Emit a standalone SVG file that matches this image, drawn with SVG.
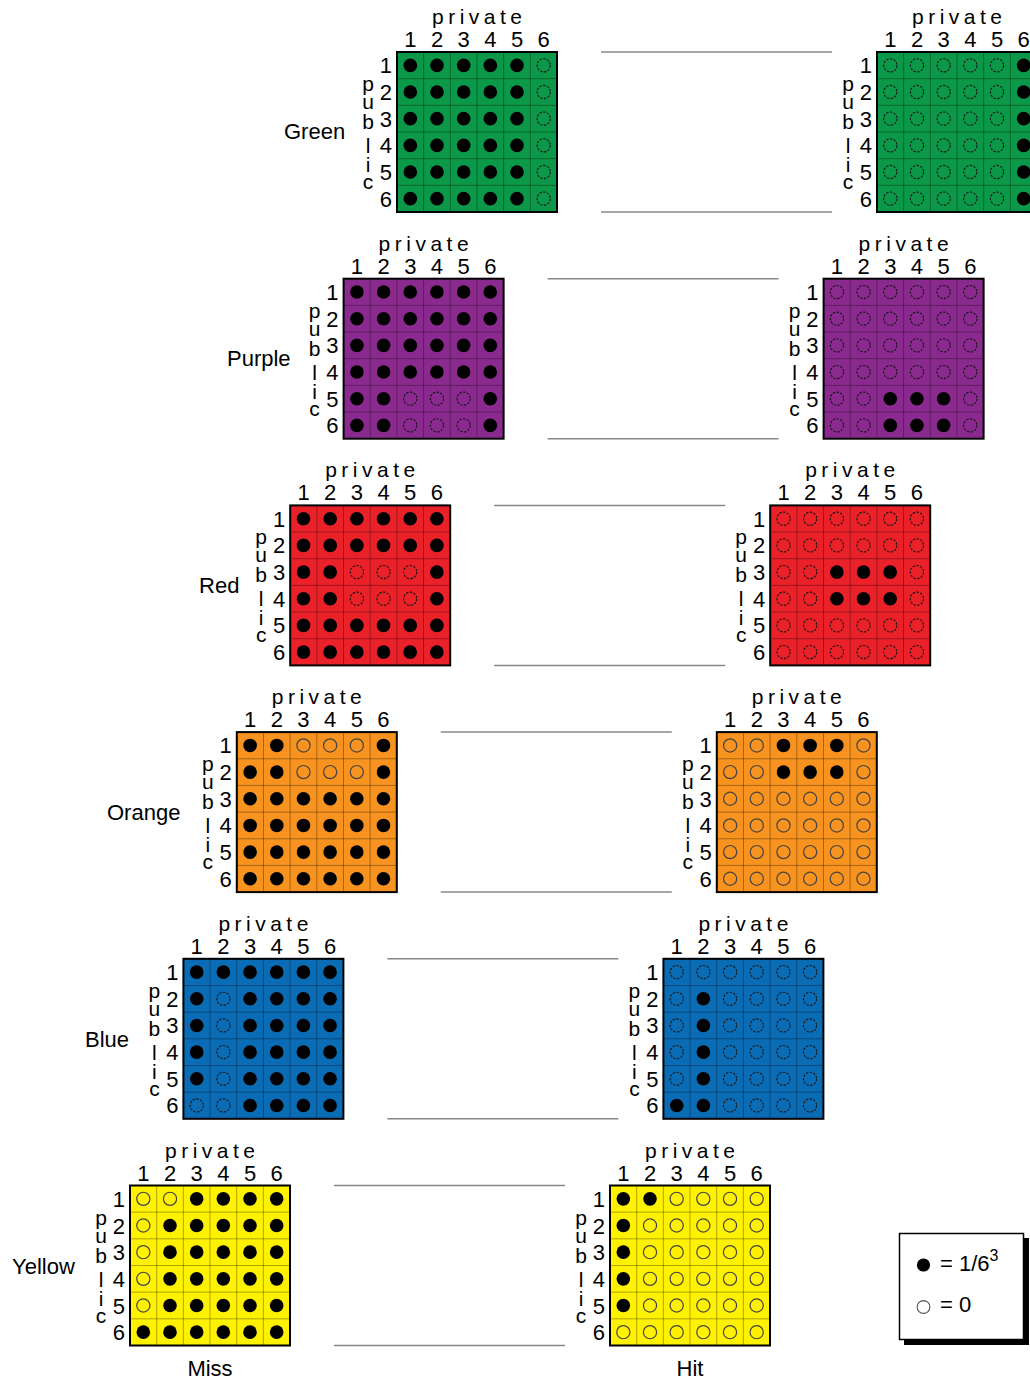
<svg xmlns="http://www.w3.org/2000/svg" xmlns:xlink="http://www.w3.org/1999/xlink" width="1030" height="1381" viewBox="0 0 1030 1381">
<style>
.t{font-family:"Liberation Sans",Arial,Helvetica,sans-serif;font-size:22px;fill:#000}
.pv{font-size:21px}
.lab{font-size:22px}
.pub{font-size:21px}
.conn{stroke:#888;stroke-width:1.5;fill:none}
.gl{stroke:#000;stroke-opacity:0.32;stroke-width:1;fill:none}
.bd{fill:none;stroke:#000;stroke-width:2}
.dk{stroke:#151515;stroke-width:1.1;stroke-dasharray:2.4 1.4}
.lt{stroke:#444;stroke-width:1.2}
</style>
<defs>
<circle id="F" r="6.8" fill="#000" stroke="none"/>
<circle id="H" r="6.6" fill="none"/>
<path id="gl" class="gl" d="M26.67 0V160M53.33 0V160M80 0V160M106.67 0V160M133.33 0V160M0 26.67H160M0 53.33H160M0 80H160M0 106.67H160M0 133.33H160"/>
<g id="pFFFFFH"><use href="#F" x="13.33"/><use href="#F" x="40"/><use href="#F" x="66.67"/><use href="#F" x="93.33"/><use href="#F" x="120"/><use href="#H" x="146.67"/></g>
<g id="pHHHHHF"><use href="#H" x="13.33"/><use href="#H" x="40"/><use href="#H" x="66.67"/><use href="#H" x="93.33"/><use href="#H" x="120"/><use href="#F" x="146.67"/></g>
<g id="pFFFFFF"><use href="#F" x="13.33"/><use href="#F" x="40"/><use href="#F" x="66.67"/><use href="#F" x="93.33"/><use href="#F" x="120"/><use href="#F" x="146.67"/></g>
<g id="pFFHHHF"><use href="#F" x="13.33"/><use href="#F" x="40"/><use href="#H" x="66.67"/><use href="#H" x="93.33"/><use href="#H" x="120"/><use href="#F" x="146.67"/></g>
<g id="pHHHHHH"><use href="#H" x="13.33"/><use href="#H" x="40"/><use href="#H" x="66.67"/><use href="#H" x="93.33"/><use href="#H" x="120"/><use href="#H" x="146.67"/></g>
<g id="pHHFFFH"><use href="#H" x="13.33"/><use href="#H" x="40"/><use href="#F" x="66.67"/><use href="#F" x="93.33"/><use href="#F" x="120"/><use href="#H" x="146.67"/></g>
<g id="pFHFFFF"><use href="#F" x="13.33"/><use href="#H" x="40"/><use href="#F" x="66.67"/><use href="#F" x="93.33"/><use href="#F" x="120"/><use href="#F" x="146.67"/></g>
<g id="pHHFFFF"><use href="#H" x="13.33"/><use href="#H" x="40"/><use href="#F" x="66.67"/><use href="#F" x="93.33"/><use href="#F" x="120"/><use href="#F" x="146.67"/></g>
<g id="pHFHHHH"><use href="#H" x="13.33"/><use href="#F" x="40"/><use href="#H" x="66.67"/><use href="#H" x="93.33"/><use href="#H" x="120"/><use href="#H" x="146.67"/></g>
<g id="pFFHHHH"><use href="#F" x="13.33"/><use href="#F" x="40"/><use href="#H" x="66.67"/><use href="#H" x="93.33"/><use href="#H" x="120"/><use href="#H" x="146.67"/></g>
<g id="pHFFFFF"><use href="#H" x="13.33"/><use href="#F" x="40"/><use href="#F" x="66.67"/><use href="#F" x="93.33"/><use href="#F" x="120"/><use href="#F" x="146.67"/></g>
<g id="pFHHHHH"><use href="#F" x="13.33"/><use href="#H" x="40"/><use href="#H" x="66.67"/><use href="#H" x="93.33"/><use href="#H" x="120"/><use href="#H" x="146.67"/></g>
</defs>
<rect width="1030" height="1381" fill="#fff"/>

<g id="connectors">
<line class="conn" x1="601" y1="52" x2="832" y2="52"/>
<line class="conn" x1="601" y1="212" x2="832" y2="212"/>
<line class="conn" x1="547.6" y1="278.7" x2="778.6" y2="278.7"/>
<line class="conn" x1="547.6" y1="438.7" x2="778.6" y2="438.7"/>
<line class="conn" x1="494.2" y1="505.4" x2="725.2" y2="505.4"/>
<line class="conn" x1="494.2" y1="665.4" x2="725.2" y2="665.4"/>
<line class="conn" x1="440.8" y1="732.1" x2="671.8" y2="732.1"/>
<line class="conn" x1="440.8" y1="892.1" x2="671.8" y2="892.1"/>
<line class="conn" x1="387.4" y1="958.8" x2="618.4" y2="958.8"/>
<line class="conn" x1="387.4" y1="1118.8" x2="618.4" y2="1118.8"/>
<line class="conn" x1="334" y1="1185.5" x2="565" y2="1185.5"/>
<line class="conn" x1="334" y1="1345.5" x2="565" y2="1345.5"/>
</g>

<!-- GREEN -->
<g id="green-miss" transform="translate(397,52)">
<rect width="160" height="160" fill="#0b9848"/><use href="#gl"/>
<g class="dk"><use href="#pFFFFFH" y="13.33"/><use href="#pFFFFFH" y="40"/><use href="#pFFFFFH" y="66.67"/><use href="#pFFFFFH" y="93.33"/><use href="#pFFFFFH" y="120"/><use href="#pFFFFFH" y="146.67"/></g>
<rect class="bd" width="160" height="160"/>
<text class="t pv" x="35" y="-28" textLength="90" lengthAdjust="spacing">private</text>
<text class="t" text-anchor="middle" x="13.33 40 66.67 93.33 120 146.67" y="-5">123456</text>
<text class="t" text-anchor="end" x="-5 -5 -5 -5 -5 -5" y="21.33 48 74.67 101.33 128 154.67">123456</text>
<text class="t pub" text-anchor="middle" x="-29 -29 -29 -29 -29 -29" y="39 57 77 101 120 137">public</text>
<text class="t lab" x="-113" y="87">Green</text>
</g>
<g id="green-hit" transform="translate(877,52)">
<rect width="160" height="160" fill="#0b9848"/><use href="#gl"/>
<g class="dk"><use href="#pHHHHHF" y="13.33"/><use href="#pHHHHHF" y="40"/><use href="#pHHHHHF" y="66.67"/><use href="#pHHHHHF" y="93.33"/><use href="#pHHHHHF" y="120"/><use href="#pHHHHHF" y="146.67"/></g>
<rect class="bd" width="160" height="160"/>
<text class="t pv" x="35" y="-28" textLength="90" lengthAdjust="spacing">private</text>
<text class="t" text-anchor="middle" x="13.33 40 66.67 93.33 120 146.67" y="-5">123456</text>
<text class="t" text-anchor="end" x="-5 -5 -5 -5 -5 -5" y="21.33 48 74.67 101.33 128 154.67">123456</text>
<text class="t pub" text-anchor="middle" x="-29 -29 -29 -29 -29 -29" y="39 57 77 101 120 137">public</text>
</g>

<!-- PURPLE -->
<g id="purple-miss" transform="translate(343.6,278.7)">
<rect width="160" height="160" fill="#8b2a8e"/><use href="#gl"/>
<g class="dk"><use href="#pFFFFFF" y="13.33"/><use href="#pFFFFFF" y="40"/><use href="#pFFFFFF" y="66.67"/><use href="#pFFFFFF" y="93.33"/><use href="#pFFHHHF" y="120"/><use href="#pFFHHHF" y="146.67"/></g>
<rect class="bd" width="160" height="160"/>
<text class="t pv" x="35" y="-28" textLength="90" lengthAdjust="spacing">private</text>
<text class="t" text-anchor="middle" x="13.33 40 66.67 93.33 120 146.67" y="-5">123456</text>
<text class="t" text-anchor="end" x="-5 -5 -5 -5 -5 -5" y="21.33 48 74.67 101.33 128 154.67">123456</text>
<text class="t pub" text-anchor="middle" x="-29 -29 -29 -29 -29 -29" y="39 57 77 101 120 137">public</text>
<text class="t lab" x="-116.6" y="87">Purple</text>
</g>
<g id="purple-hit" transform="translate(823.6,278.7)">
<rect width="160" height="160" fill="#8b2a8e"/><use href="#gl"/>
<g class="dk"><use href="#pHHHHHH" y="13.33"/><use href="#pHHHHHH" y="40"/><use href="#pHHHHHH" y="66.67"/><use href="#pHHHHHH" y="93.33"/><use href="#pHHFFFH" y="120"/><use href="#pHHFFFH" y="146.67"/></g>
<rect class="bd" width="160" height="160"/>
<text class="t pv" x="35" y="-28" textLength="90" lengthAdjust="spacing">private</text>
<text class="t" text-anchor="middle" x="13.33 40 66.67 93.33 120 146.67" y="-5">123456</text>
<text class="t" text-anchor="end" x="-5 -5 -5 -5 -5 -5" y="21.33 48 74.67 101.33 128 154.67">123456</text>
<text class="t pub" text-anchor="middle" x="-29 -29 -29 -29 -29 -29" y="39 57 77 101 120 137">public</text>
</g>

<!-- RED -->
<g id="red-miss" transform="translate(290.2,505.4)">
<rect width="160" height="160" fill="#ea2129"/><use href="#gl"/>
<g class="dk"><use href="#pFFFFFF" y="13.33"/><use href="#pFFFFFF" y="40"/><use href="#pFFHHHF" y="66.67"/><use href="#pFFHHHF" y="93.33"/><use href="#pFFFFFF" y="120"/><use href="#pFFFFFF" y="146.67"/></g>
<rect class="bd" width="160" height="160"/>
<text class="t pv" x="35" y="-28" textLength="90" lengthAdjust="spacing">private</text>
<text class="t" text-anchor="middle" x="13.33 40 66.67 93.33 120 146.67" y="-5">123456</text>
<text class="t" text-anchor="end" x="-5 -5 -5 -5 -5 -5" y="21.33 48 74.67 101.33 128 154.67">123456</text>
<text class="t pub" text-anchor="middle" x="-29 -29 -29 -29 -29 -29" y="39 57 77 101 120 137">public</text>
<text class="t lab" x="-91.2" y="88">Red</text>
</g>
<g id="red-hit" transform="translate(770.2,505.4)">
<rect width="160" height="160" fill="#ea2129"/><use href="#gl"/>
<g class="dk"><use href="#pHHHHHH" y="13.33"/><use href="#pHHHHHH" y="40"/><use href="#pHHFFFH" y="66.67"/><use href="#pHHFFFH" y="93.33"/><use href="#pHHHHHH" y="120"/><use href="#pHHHHHH" y="146.67"/></g>
<rect class="bd" width="160" height="160"/>
<text class="t pv" x="35" y="-28" textLength="90" lengthAdjust="spacing">private</text>
<text class="t" text-anchor="middle" x="13.33 40 66.67 93.33 120 146.67" y="-5">123456</text>
<text class="t" text-anchor="end" x="-5 -5 -5 -5 -5 -5" y="21.33 48 74.67 101.33 128 154.67">123456</text>
<text class="t pub" text-anchor="middle" x="-29 -29 -29 -29 -29 -29" y="39 57 77 101 120 137">public</text>
</g>

<!-- ORANGE -->
<g id="orange-miss" transform="translate(236.8,732.1)">
<rect width="160" height="160" fill="#f7931e"/><use href="#gl"/>
<g class="lt"><use href="#pFFHHHF" y="13.33"/><use href="#pFFHHHF" y="40"/><use href="#pFFFFFF" y="66.67"/><use href="#pFFFFFF" y="93.33"/><use href="#pFFFFFF" y="120"/><use href="#pFFFFFF" y="146.67"/></g>
<rect class="bd" width="160" height="160"/>
<text class="t pv" x="35" y="-28" textLength="90" lengthAdjust="spacing">private</text>
<text class="t" text-anchor="middle" x="13.33 40 66.67 93.33 120 146.67" y="-5">123456</text>
<text class="t" text-anchor="end" x="-5 -5 -5 -5 -5 -5" y="21.33 48 74.67 101.33 128 154.67">123456</text>
<text class="t pub" text-anchor="middle" x="-29 -29 -29 -29 -29 -29" y="39 57 77 101 120 137">public</text>
<text class="t lab" x="-129.8" y="88">Orange</text>
</g>
<g id="orange-hit" transform="translate(716.8,732.1)">
<rect width="160" height="160" fill="#f7931e"/><use href="#gl"/>
<g class="lt"><use href="#pHHFFFH" y="13.33"/><use href="#pHHFFFH" y="40"/><use href="#pHHHHHH" y="66.67"/><use href="#pHHHHHH" y="93.33"/><use href="#pHHHHHH" y="120"/><use href="#pHHHHHH" y="146.67"/></g>
<rect class="bd" width="160" height="160"/>
<text class="t pv" x="35" y="-28" textLength="90" lengthAdjust="spacing">private</text>
<text class="t" text-anchor="middle" x="13.33 40 66.67 93.33 120 146.67" y="-5">123456</text>
<text class="t" text-anchor="end" x="-5 -5 -5 -5 -5 -5" y="21.33 48 74.67 101.33 128 154.67">123456</text>
<text class="t pub" text-anchor="middle" x="-29 -29 -29 -29 -29 -29" y="39 57 77 101 120 137">public</text>
</g>

<!-- BLUE -->
<g id="blue-miss" transform="translate(183.4,958.8)">
<rect width="160" height="160" fill="#0b6cb6"/><use href="#gl"/>
<g class="dk"><use href="#pFFFFFF" y="13.33"/><use href="#pFHFFFF" y="40"/><use href="#pFHFFFF" y="66.67"/><use href="#pFHFFFF" y="93.33"/><use href="#pFHFFFF" y="120"/><use href="#pHHFFFF" y="146.67"/></g>
<rect class="bd" width="160" height="160"/>
<text class="t pv" x="35" y="-28" textLength="90" lengthAdjust="spacing">private</text>
<text class="t" text-anchor="middle" x="13.33 40 66.67 93.33 120 146.67" y="-5">123456</text>
<text class="t" text-anchor="end" x="-5 -5 -5 -5 -5 -5" y="21.33 48 74.67 101.33 128 154.67">123456</text>
<text class="t pub" text-anchor="middle" x="-29 -29 -29 -29 -29 -29" y="39 57 77 101 120 137">public</text>
<text class="t lab" x="-98.4" y="88">Blue</text>
</g>
<g id="blue-hit" transform="translate(663.4,958.8)">
<rect width="160" height="160" fill="#0b6cb6"/><use href="#gl"/>
<g class="dk"><use href="#pHHHHHH" y="13.33"/><use href="#pHFHHHH" y="40"/><use href="#pHFHHHH" y="66.67"/><use href="#pHFHHHH" y="93.33"/><use href="#pHFHHHH" y="120"/><use href="#pFFHHHH" y="146.67"/></g>
<rect class="bd" width="160" height="160"/>
<text class="t pv" x="35" y="-28" textLength="90" lengthAdjust="spacing">private</text>
<text class="t" text-anchor="middle" x="13.33 40 66.67 93.33 120 146.67" y="-5">123456</text>
<text class="t" text-anchor="end" x="-5 -5 -5 -5 -5 -5" y="21.33 48 74.67 101.33 128 154.67">123456</text>
<text class="t pub" text-anchor="middle" x="-29 -29 -29 -29 -29 -29" y="39 57 77 101 120 137">public</text>
</g>

<!-- YELLOW -->
<g id="yellow-miss" transform="translate(130,1185.5)">
<rect width="160" height="160" fill="#fff200"/><use href="#gl"/>
<g class="lt"><use href="#pHHFFFF" y="13.33"/><use href="#pHFFFFF" y="40"/><use href="#pHFFFFF" y="66.67"/><use href="#pHFFFFF" y="93.33"/><use href="#pHFFFFF" y="120"/><use href="#pFFFFFF" y="146.67"/></g>
<rect class="bd" width="160" height="160"/>
<text class="t pv" x="35" y="-28" textLength="90" lengthAdjust="spacing">private</text>
<text class="t" text-anchor="middle" x="13.33 40 66.67 93.33 120 146.67" y="-5">123456</text>
<text class="t" text-anchor="end" x="-5 -5 -5 -5 -5 -5" y="21.33 48 74.67 101.33 128 154.67">123456</text>
<text class="t pub" text-anchor="middle" x="-29 -29 -29 -29 -29 -29" y="39 57 77 101 120 137">public</text>
<text class="t lab" x="-118" y="88">Yellow</text>
<text class="t lab" x="80" y="190.5" text-anchor="middle">Miss</text>
</g>
<g id="yellow-hit" transform="translate(610,1185.5)">
<rect width="160" height="160" fill="#fff200"/><use href="#gl"/>
<g class="lt"><use href="#pFFHHHH" y="13.33"/><use href="#pFHHHHH" y="40"/><use href="#pFHHHHH" y="66.67"/><use href="#pFHHHHH" y="93.33"/><use href="#pFHHHHH" y="120"/><use href="#pHHHHHH" y="146.67"/></g>
<rect class="bd" width="160" height="160"/>
<text class="t pv" x="35" y="-28" textLength="90" lengthAdjust="spacing">private</text>
<text class="t" text-anchor="middle" x="13.33 40 66.67 93.33 120 146.67" y="-5">123456</text>
<text class="t" text-anchor="end" x="-5 -5 -5 -5 -5 -5" y="21.33 48 74.67 101.33 128 154.67">123456</text>
<text class="t pub" text-anchor="middle" x="-29 -29 -29 -29 -29 -29" y="39 57 77 101 120 137">public</text>
<text class="t lab" x="80" y="190.5" text-anchor="middle">Hit</text>
</g>

<!-- LEGEND -->
<g id="legend">
<rect x="904" y="1238" width="125" height="107" fill="#000"/>
<rect x="899.5" y="1233.5" width="124" height="106" fill="#fff" stroke="#000" stroke-width="1.5"/>
<circle cx="923.5" cy="1265" r="6.6" fill="#000"/>
<text class="t" x="940" y="1271">= 1/6<tspan font-size="16" dy="-10">3</tspan></text>
<circle cx="923.5" cy="1307" r="6.4" fill="none" stroke="#555" stroke-width="1.1"/>
<text class="t" x="940" y="1312">= 0</text>
</g>
</svg>
